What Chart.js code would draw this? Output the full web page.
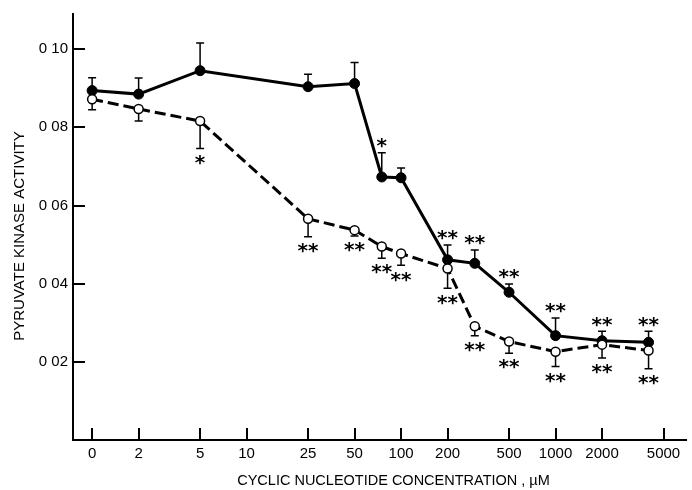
<!DOCTYPE html>
<html>
<head>
<meta charset="utf-8">
<script src="https://cdn.jsdelivr.net/npm/chart.js@4/dist/chart.umd.min.js"></script>
<style>
  html, body { margin: 0; padding: 0; background: #fff; }
  #wrap { width: 692px; height: 490px; }
</style>
</head>
<body>
<div id="wrap"><canvas id="c" width="692" height="490"></canvas></div>
<script>
// ---- data ----
const xTickValues = [1, 2, 5, 10, 25, 50, 100, 200, 500, 1000, 2000, 5000]; // "0" is plotted at the position of 1
const xTickLabels = ['0', '2', '5', '10', '25', '50', '100', '200', '500', '1000', '2000', '5000'];
const yTickValues = [0.02, 0.04, 0.06, 0.08, 0.10];
const yTickLabels = ['0 02', '0 04', '0 06', '0 08', '0 10'];

const concentrations = [0, 2, 5, 25, 50, 75, 100, 200, 300, 500, 1000, 2000, 4000]; // µM

const filledValues = [0.0894, 0.0885, 0.0945, 0.0904, 0.0912, 0.0673, 0.0671, 0.0461, 0.0452, 0.0378, 0.0267, 0.0254, 0.0250];
const filledErrors = [0.0033, 0.0041, 0.0071, 0.0032, 0.0054, 0.0062, 0.0025, 0.0038, 0.0034, 0.0021, 0.0045, 0.0024, 0.0028];
const filledSignif = ['', '', '', '', '', '*', '', '**', '**', '**', '**', '**', '**'];

const openValues = [0.0872, 0.0847, 0.0816, 0.0566, 0.0537, 0.0495, 0.0477, 0.0439, 0.0291, 0.0252, 0.0226, 0.0244, 0.0229];
const openErrors = [0.0027, 0.0031, 0.0070, 0.0046, 0.0015, 0.0030, 0.0030, 0.0051, 0.0024, 0.0030, 0.0038, 0.0034, 0.0047];
const openSignif = ['', '', '*', '**', '**', '**', '**', '**', '**', '**', '**', '**', '**'];

const xTitle = 'CYCLIC NUCLEOTIDE CONCENTRATION , \u00B5M';
const yTitle = 'PYRUVATE KINASE ACTIVITY';

// ---- build ----
const plotX = c => (c === 0 ? 1 : c);
const toPoints = vals => concentrations.map((c, i) => ({ x: plotX(c), y: vals[i] }));

const errorBarsPlugin = {
  id: 'errorBars',
  beforeDatasetsDraw(chart) {
    const ctx = chart.ctx, xs = chart.scales.x, ys = chart.scales.y;
    ctx.save();
    ctx.strokeStyle = '#000';
    ctx.lineWidth = 1.5;
    const drawBar = (vals, errs, dir) => {
      concentrations.forEach((c, i) => {
        const px = xs.getPixelForValue(plotX(c));
        const p0 = ys.getPixelForValue(vals[i]);
        const p1 = ys.getPixelForValue(vals[i] + dir * errs[i]);
        ctx.beginPath();
        ctx.moveTo(px, p0); ctx.lineTo(px, p1);
        ctx.moveTo(px - 4, p1); ctx.lineTo(px + 4, p1);
        ctx.stroke();
      });
    };
    drawBar(filledValues, filledErrors, 1);
    drawBar(openValues, openErrors, -1);
    ctx.restore();
  },
  afterDatasetsDraw(chart) {
    const ctx = chart.ctx, xs = chart.scales.x, ys = chart.scales.y;
    ctx.save();
    ctx.fillStyle = '#000';
    ctx.font = 'bold 20px "DejaVu Sans"';
    ctx.textAlign = 'center';
    ctx.textBaseline = 'middle';
    concentrations.forEach((c, i) => {
      const px = xs.getPixelForValue(plotX(c));
      if (filledSignif[i]) {
        const py = ys.getPixelForValue(filledValues[i] + filledErrors[i]);
        ctx.fillText(filledSignif[i], px, py - 10 + 4);
      }
      if (openSignif[i]) {
        const py = ys.getPixelForValue(openValues[i] - openErrors[i]);
        ctx.fillText(openSignif[i], px, py + 11 + 4);
      }
    });
    ctx.restore();
  }
};

const axesPlugin = {
  id: 'insideTicksAndTitles',
  afterDraw(chart) {
    const ctx = chart.ctx, xs = chart.scales.x, ys = chart.scales.y, a = chart.chartArea;
    ctx.save();
    ctx.strokeStyle = '#000';
    ctx.lineWidth = 2;
    ctx.beginPath();
    xs.ticks.forEach(t => {
      const px = Math.round(xs.getPixelForValue(t.value));
      ctx.moveTo(px, a.bottom); ctx.lineTo(px, a.bottom - 12);
    });
    ys.ticks.forEach(t => {
      const py = Math.round(ys.getPixelForValue(t.value));
      ctx.moveTo(a.left, py); ctx.lineTo(a.left + 12, py);
    });
    ctx.stroke();
    // axis titles
    ctx.fillStyle = '#000';
    ctx.textAlign = 'center';
    ctx.textBaseline = 'middle';
    ctx.font = '14.5px "Liberation Sans"';
    ctx.fillText(xTitle, (a.left + a.right) / 2 + 14, 481);
    ctx.translate(20, (a.top + a.bottom) / 2 + 9);
    ctx.rotate(-Math.PI / 2);
    ctx.font = '15px "Liberation Sans"';
    ctx.fillText(yTitle, 0, 0);
    ctx.restore();
  }
};

new Chart(document.getElementById('c'), {
  type: 'scatter',
  data: {
    datasets: [
      {
        label: 'filled',
        data: toPoints(filledValues),
        showLine: true,
        borderColor: '#000',
        borderWidth: 3,
        pointRadius: 5,
        pointBackgroundColor: '#000',
        pointBorderColor: '#000',
        pointBorderWidth: 1,
        order: 2
      },
      {
        label: 'open',
        data: toPoints(openValues),
        showLine: true,
        borderColor: '#000',
        borderWidth: 3,
        borderDash: [11, 5],
        pointRadius: 4.5,
        pointBackgroundColor: '#fff',
        pointBorderColor: '#000',
        pointBorderWidth: 1.5,
        order: 1
      }
    ]
  },
  options: {
    responsive: false,
    animation: false,
    devicePixelRatio: 1,
    layout: { padding: { top: 13, right: 0, left: 0, bottom: 0 } },
    plugins: { legend: { display: false }, tooltip: { enabled: false } },
    scales: {
      x: {
        type: 'logarithmic',
        min: 0.752,
        max: 6990,
        afterBuildTicks: s => { s.ticks = xTickValues.map(v => ({ value: v })); },
        afterFit: s => { s.height = 50; },
        grid: { display: false, drawTicks: false },
        border: { display: true, color: '#000', width: 2 },
        ticks: {
          autoSkip: false, maxRotation: 0, padding: 5, color: '#000',
          font: { family: 'Liberation Sans', size: 15 },
          callback: (v, i) => xTickLabels[i]
        }
      },
      y: {
        type: 'linear',
        min: 0,
        max: 0.109,
        afterBuildTicks: s => { s.ticks = yTickValues.map(v => ({ value: v })); },
        afterFit: s => { s.width = 73; },
        grid: { display: false, drawTicks: false },
        border: { display: true, color: '#000', width: 2 },
        ticks: {
          padding: 5, color: '#000',
          font: { family: 'Liberation Sans', size: 15 },
          callback: (v, i) => yTickLabels[i]
        }
      }
    }
  },
  plugins: [errorBarsPlugin, axesPlugin]
});
</script>
</body>
</html>
